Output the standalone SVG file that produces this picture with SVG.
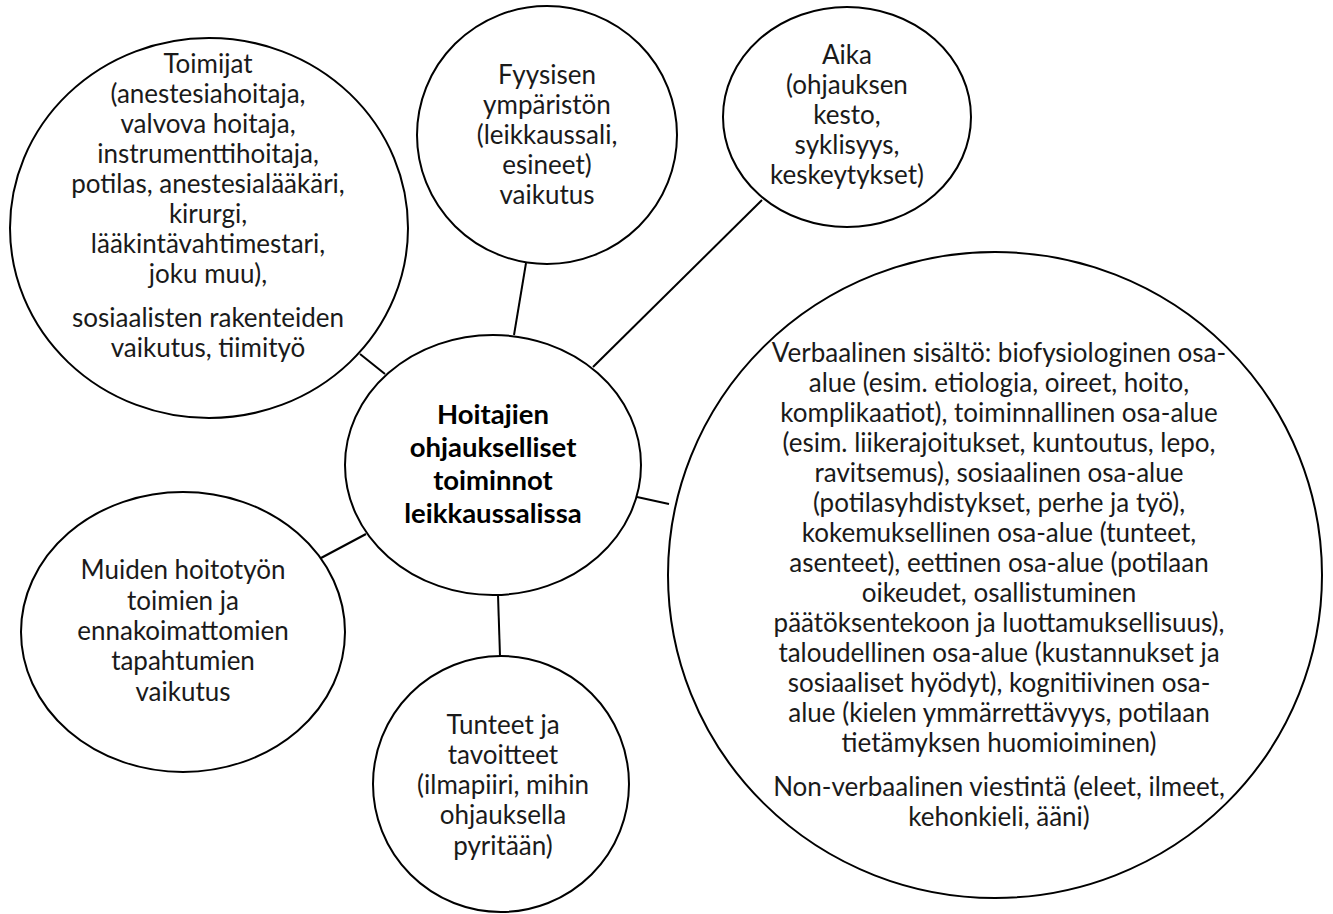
<svg xmlns="http://www.w3.org/2000/svg" width="1333" height="914" viewBox="0 0 1333 914">
<style>
.n{fill:#fff;stroke:#000;stroke-width:2}
.c line{stroke:#000;stroke-width:2}
text{font-family:Lato,"Liberation Sans",sans-serif;font-size:26px;fill:#1a1a1a;text-anchor:middle}
.b{font-weight:bold;font-size:27.5px;fill:#000}
</style>
<rect width="1333" height="914" fill="#fff"/>
<g class="c" id="connectors">
<line x1="360" y1="354" x2="385" y2="374"/>
<line x1="526" y1="263" x2="514" y2="335"/>
<line x1="762" y1="200" x2="593" y2="367"/>
<line x1="637" y1="497" x2="669" y2="504"/>
<line x1="366" y1="534" x2="321" y2="558"/>
<line x1="498" y1="595" x2="500" y2="656"/>
</g>
<g id="toimijat">
<ellipse class="n" cx="209" cy="228" rx="199" ry="190"/>
<text x="208" y="73">Toimijat</text>
<text x="208" y="103">(anestesiahoitaja,</text>
<text x="208" y="133">valvova hoitaja,</text>
<text x="208" y="163">instrumenttihoitaja,</text>
<text x="208" y="193">potilas, anestesialääkäri,</text>
<text x="208" y="223">kirurgi,</text>
<text x="208" y="253">lääkintävahtimestari,</text>
<text x="208" y="283">joku muu),</text>
<text x="208" y="327">sosiaalisten rakenteiden</text>
<text x="208" y="357">vaikutus, tiimityö</text>
</g>
<g id="fyysisen">
<ellipse class="n" cx="547" cy="135" rx="130" ry="129"/>
<text x="547" y="84">Fyysisen</text>
<text x="547" y="114">ympäristön</text>
<text x="547" y="144">(leikkaussali,</text>
<text x="547" y="174">esineet)</text>
<text x="547" y="204">vaikutus</text>
</g>
<g id="aika">
<ellipse class="n" cx="847" cy="117" rx="124" ry="110"/>
<text x="847" y="64">Aika</text>
<text x="847" y="94">(ohjauksen</text>
<text x="847" y="124">kesto,</text>
<text x="847" y="154">syklisyys,</text>
<text x="847" y="184">keskeytykset)</text>
</g>
<g id="center">
<ellipse class="n" cx="493" cy="465" rx="148" ry="130"/>
<text class="b" x="493" y="424">Hoitajien</text>
<text class="b" x="493" y="457">ohjaukselliset</text>
<text class="b" x="493" y="490">toiminnot</text>
<text class="b" x="493" y="523">leikkaussalissa</text>
</g>
<g id="muiden">
<ellipse class="n" cx="183" cy="632" rx="162" ry="140"/>
<text x="183" y="579">Muiden hoitotyön</text>
<text x="183" y="610">toimien ja</text>
<text x="183" y="640">ennakoimattomien</text>
<text x="183" y="670">tapahtumien</text>
<text x="183" y="701">vaikutus</text>
</g>
<g id="tunteet">
<ellipse class="n" cx="501" cy="784" rx="128" ry="128"/>
<text x="503" y="734">Tunteet ja</text>
<text x="503" y="764">tavoitteet</text>
<text x="503" y="794">(ilmapiiri, mihin</text>
<text x="503" y="824">ohjauksella</text>
<text x="503" y="855">pyritään)</text>
</g>
<g id="viestinta">
<ellipse class="n" cx="995" cy="575" rx="327" ry="323"/>
<text x="999" y="362">Verbaalinen sisältö: biofysiologinen osa-</text>
<text x="999" y="392">alue (esim. etiologia, oireet, hoito,</text>
<text x="999" y="422">komplikaatiot), toiminnallinen osa-alue</text>
<text x="999" y="452">(esim. liikerajoitukset, kuntoutus, lepo,</text>
<text x="999" y="482">ravitsemus), sosiaalinen osa-alue</text>
<text x="999" y="512">(potilasyhdistykset, perhe ja työ),</text>
<text x="999" y="542">kokemuksellinen osa-alue (tunteet,</text>
<text x="999" y="572">asenteet), eettinen osa-alue (potilaan</text>
<text x="999" y="602">oikeudet, osallistuminen</text>
<text x="999" y="632">päätöksentekoon ja luottamuksellisuus),</text>
<text x="999" y="662">taloudellinen osa-alue (kustannukset ja</text>
<text x="999" y="692">sosiaaliset hyödyt), kognitiivinen osa-</text>
<text x="999" y="722">alue (kielen ymmärrettävyys, potilaan</text>
<text x="999" y="752">tietämyksen huomioiminen)</text>
<text x="999" y="796">Non-verbaalinen viestintä (eleet, ilmeet,</text>
<text x="999" y="826">kehonkieli, ääni)</text>
</g>
</svg>
